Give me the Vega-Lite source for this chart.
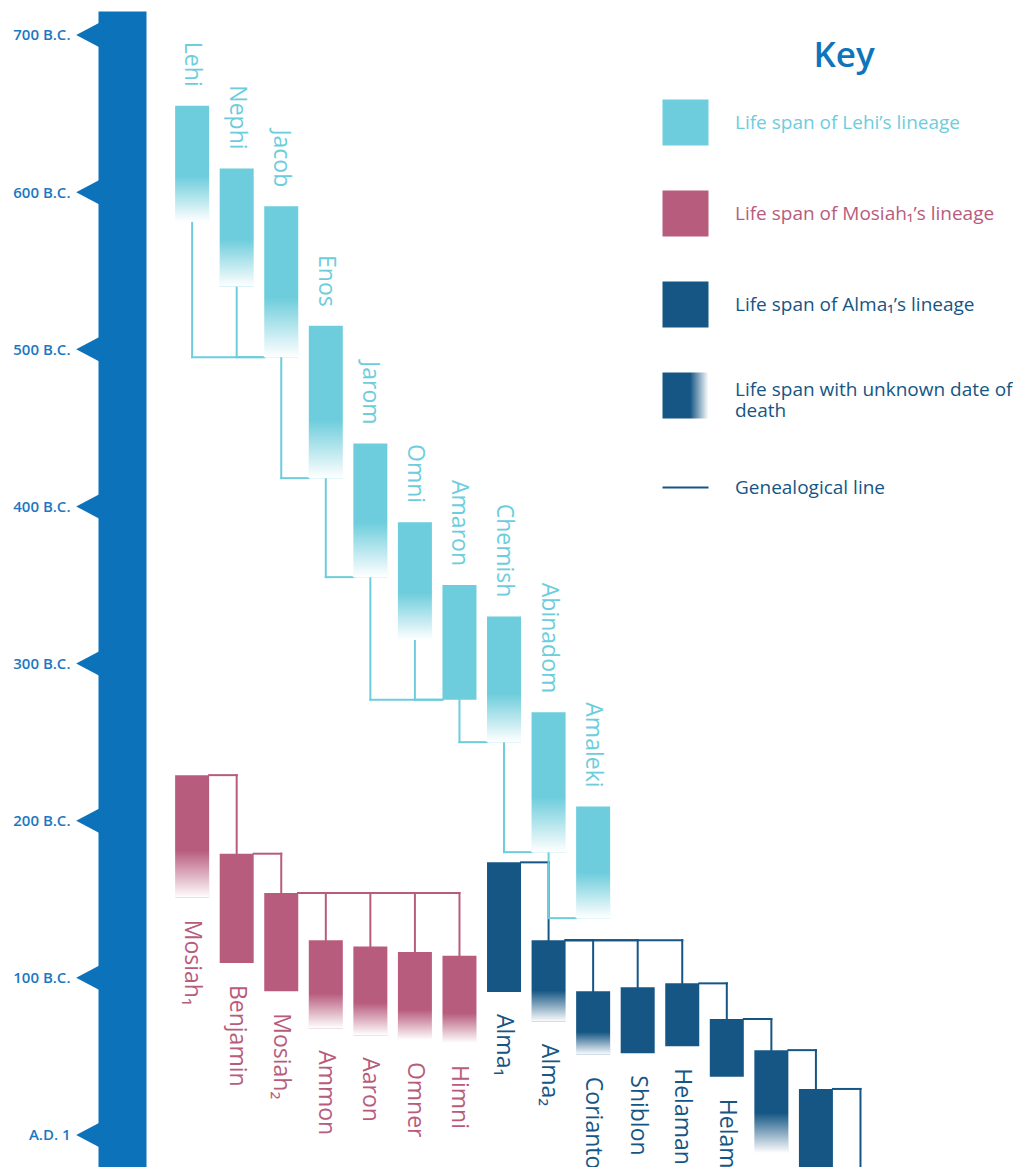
{
  "$schema": "https://vega.github.io/schema/vega-lite/v6.json",
  "width": 1013,
  "height": 1156,
  "autosize": {"type": "none"},
  "padding": {"left": 0, "right": 0, "top": 11, "bottom": 0},
  "background": "white",
  "config": {"view": {"stroke": null}, "font": "Open Sans"},
  "resolve": {"axis": {"y": "independent"}},
  "datasets": {
    "people": [
      {"name": "Lehi", "lineage": "Lehi", "col": 0, "start": 655, "fade": 610, "end": 581},
      {"name": "Nephi", "lineage": "Lehi", "col": 1, "start": 615, "fade": 570, "end": 540},
      {"name": "Jacob", "lineage": "Lehi", "col": 2, "start": 591, "fade": 533, "end": 495},
      {"name": "Enos", "lineage": "Lehi", "col": 3, "start": 515, "fade": 455, "end": 418},
      {"name": "Jarom", "lineage": "Lehi", "col": 4, "start": 440, "fade": 390, "end": 355},
      {"name": "Omni", "lineage": "Lehi", "col": 5, "start": 390, "fade": 345, "end": 315},
      {"name": "Amaron", "lineage": "Lehi", "col": 6, "start": 350, "end": 277},
      {"name": "Chemish", "lineage": "Lehi", "col": 7, "start": 330, "fade": 281, "end": 250},
      {"name": "Abinadom", "lineage": "Lehi", "col": 8, "start": 269, "fade": 215, "end": 180},
      {"name": "Amaleki", "lineage": "Lehi", "col": 9, "start": 209, "fade": 167, "end": 138},
      {"name": "Mosiah₁", "lineage": "Mosiah", "col": 0, "start": 229, "fade": 181, "end": 151},
      {"name": "Benjamin", "lineage": "Mosiah", "col": 1, "start": 179, "end": 109.5},
      {"name": "Mosiah₂", "lineage": "Mosiah", "col": 2, "start": 154, "end": 91.5},
      {"name": "Ammon", "lineage": "Mosiah", "col": 3, "start": 124, "fade": 90, "end": 68},
      {"name": "Aaron", "lineage": "Mosiah", "col": 4, "start": 120, "fade": 84, "end": 63.5},
      {"name": "Omner", "lineage": "Mosiah", "col": 5, "start": 116.5, "fade": 79.5, "end": 60.5},
      {"name": "Himni", "lineage": "Mosiah", "col": 6, "start": 114, "fade": 77.5, "end": 58.5},
      {"name": "Alma₁", "lineage": "Alma", "col": 7, "start": 173.5, "end": 91},
      {"name": "Alma₂", "lineage": "Alma", "col": 8, "start": 124, "fade": 92, "end": 72},
      {"name": "Corianton", "lineage": "Alma", "col": 9, "start": 91.5, "fade": 65.5, "end": 51},
      {"name": "Shiblon", "lineage": "Alma", "col": 10, "start": 94, "end": 52},
      {"name": "Helaman", "lineage": "Alma", "col": 11, "start": 96.5, "end": 56.5},
      {"name": "Helaman₂", "lineage": "Alma", "col": 12, "start": 73.8, "end": 37},
      {"name": "Nephi₂", "lineage": "Alma", "col": 13, "start": 54, "fade": 14, "end": -11.5},
      {"name": "Nephi₃", "lineage": "Alma", "col": 14, "start": 29.3, "end": -30},
      {"name": "Nephi₄", "lineage": "Alma", "col": 15, "start": -35, "end": -70}
    ],
    "links": [
      {"from": "Lehi", "to": "Jacob", "style": "bottom"},
      {"from": "Nephi", "to": "Jacob", "style": "bottom"},
      {"from": "Jacob", "to": "Enos", "style": "bottom"},
      {"from": "Enos", "to": "Jarom", "style": "bottom"},
      {"from": "Jarom", "to": "Amaron", "style": "bottom"},
      {"from": "Omni", "to": "Amaron", "style": "bottom"},
      {"from": "Amaron", "to": "Chemish", "style": "bottom"},
      {"from": "Chemish", "to": "Abinadom", "style": "bottom"},
      {"from": "Abinadom", "to": "Amaleki", "style": "bottom"},
      {"from": "Mosiah₁", "to": "Benjamin", "style": "top"},
      {"from": "Benjamin", "to": "Mosiah₂", "style": "top"},
      {"from": "Mosiah₂", "to": "Ammon", "style": "top"},
      {"from": "Mosiah₂", "to": "Aaron", "style": "top"},
      {"from": "Mosiah₂", "to": "Omner", "style": "top"},
      {"from": "Mosiah₂", "to": "Himni", "style": "top"},
      {"from": "Alma₁", "to": "Alma₂", "style": "top"},
      {"from": "Alma₂", "to": "Corianton", "style": "top"},
      {"from": "Alma₂", "to": "Shiblon", "style": "top"},
      {"from": "Alma₂", "to": "Helaman", "style": "top"},
      {"from": "Helaman", "to": "Helaman₂", "style": "top"},
      {"from": "Helaman₂", "to": "Nephi₂", "style": "top"},
      {"from": "Nephi₂", "to": "Nephi₃", "style": "top"},
      {"from": "Nephi₃", "to": "Nephi₄", "style": "top"}
    ],
    "centuries": [
      {"year": 700}, {"year": 600}, {"year": 500}, {"year": 400},
      {"year": 300}, {"year": 200}, {"year": 100}, {"year": 0}
    ]
  },
  "layer": [
    {
      "data": {"name": "links"},
      "transform": [
        {"lookup": "from", "from": {"data": {"name": "people"}, "key": "name", "fields": ["col", "start", "end", "lineage"]}, "as": ["pCol", "pStart", "pEnd", "lineage"]},
        {"lookup": "to", "from": {"data": {"name": "people"}, "key": "name", "fields": ["col", "start", "end"]}, "as": ["cCol", "cStart", "cEnd"]},
        {"filter": "datum.style === 'top'"}
      ],
      "mark": {"type": "rule", "strokeCap": "square", "xOffset": 17},
      "encoding": {
        "x": {"field": "pCol", "type": "quantitative", "scale": {"domain": [-4.2, 18.3111], "nice": false, "zero": false}, "axis": null},
        "x2": {"field": "cCol"},
        "y": {"field": "pStart", "type": "quantitative", "scale": {"domain": [-20.37, 715.27], "nice": false, "zero": false}, "axis": null},
        "strokeWidth": {"value": 2},
        "stroke": {
          "field": "lineage", "type": "nominal",
          "scale": {"domain": ["Lehi", "Mosiah", "Alma", "unknown", "line"], "range": ["#6DCDDC", "#B85C7D", "#155684", "#155684", "#155684"]},
          "legend": {
            "title": "Key", "orient": "none", "direction": "vertical",
            "legendX": 676, "legendY": 28, "padding": 0,
            "titleFont": "Open Sans", "titleFontSize": 35, "titleFontWeight": 600, "titleColor": "#0E74BC",
            "titleAnchor": "middle", "titlePadding": 39,
            "symbolType": {"expr": "datum.value === 'line' ? 'M-1,-0.8M-1,0L1,0M1,0.8' : 'square'"},
            "symbolSize": 2116,
            "symbolFillColor": {"expr": "datum.value === 'Lehi' ? '#6DCDDC' : datum.value === 'Mosiah' ? '#B85C7D' : datum.value === 'Alma' ? '#155684' : datum.value === 'unknown' ? {gradient: 'linear', x1: 0, y1: 0, x2: 1, y2: 0, stops: [{offset: 0, color: '#155684'}, {offset: 0.6, color: '#155684'}, {offset: 1, color: '#ffffff'}]} : 'transparent'"},
            "symbolStrokeWidth": {"expr": "datum.value === 'line' ? 2 : 0"},
            "symbolOpacity": 1,
            "labelFont": "Open Sans", "labelFontSize": 19, "labelOffset": 40, "labelLimit": 400,
            "labelBaseline": {"expr": "datum.value === 'unknown' ? 'alphabetic' : 'middle'"},
            "labelColor": {"expr": "datum.value === 'Lehi' ? '#6DCDDC' : datum.value === 'Mosiah' ? '#B85C7D' : '#155684'"},
            "rowPadding": 44,
            "labelExpr": "datum.value === 'Lehi' ? 'Life span of Lehi’s lineage' : datum.value === 'Mosiah' ? 'Life span of Mosiah₁’s lineage' : datum.value === 'Alma' ? 'Life span of Alma₁’s lineage' : datum.value === 'unknown' ? ['Life span with unknown date of', 'death'] : 'Genealogical line'"
          }
        }
      }
    },
    {
      "data": {"name": "links"},
      "transform": [
        {"lookup": "from", "from": {"data": {"name": "people"}, "key": "name", "fields": ["col", "start", "end", "lineage"]}, "as": ["pCol", "pStart", "pEnd", "lineage"]},
        {"lookup": "to", "from": {"data": {"name": "people"}, "key": "name", "fields": ["col", "start", "end"]}, "as": ["cCol", "cStart", "cEnd"]},
        {"filter": "datum.style === 'top'"}
      ],
      "mark": {"type": "rule", "strokeCap": "square"},
      "encoding": {
        "x": {"field": "cCol", "type": "quantitative", "scale": {"domain": [-4.2, 18.3111], "nice": false, "zero": false}, "axis": null},
        "y": {"field": "pStart", "type": "quantitative", "scale": {"domain": [-20.37, 715.27], "nice": false, "zero": false}, "axis": null},
        "y2": {"field": "cStart"},
        "strokeWidth": {"value": 2},
        "stroke": {"field": "lineage", "type": "nominal", "scale": {"domain": ["Lehi", "Mosiah", "Alma", "unknown", "line"], "range": ["#6DCDDC", "#B85C7D", "#155684", "#155684", "#155684"]}, "legend": null}
      }
    },
    {
      "data": {"name": "links"},
      "transform": [
        {"lookup": "from", "from": {"data": {"name": "people"}, "key": "name", "fields": ["col", "start", "end", "lineage"]}, "as": ["pCol", "pStart", "pEnd", "lineage"]},
        {"lookup": "to", "from": {"data": {"name": "people"}, "key": "name", "fields": ["col", "start", "end"]}, "as": ["cCol", "cStart", "cEnd"]},
        {"filter": "datum.style === 'bottom'"}
      ],
      "mark": {"type": "rule", "strokeCap": "square"},
      "encoding": {
        "x": {"field": "pCol", "type": "quantitative", "scale": {"domain": [-4.2, 18.3111], "nice": false, "zero": false}, "axis": null},
        "y": {"field": "pEnd", "type": "quantitative", "scale": {"domain": [-20.37, 715.27], "nice": false, "zero": false}, "axis": null},
        "y2": {"field": "cEnd"},
        "strokeWidth": {"value": 2},
        "stroke": {"field": "lineage", "type": "nominal", "scale": {"domain": ["Lehi", "Mosiah", "Alma", "unknown", "line"], "range": ["#6DCDDC", "#B85C7D", "#155684", "#155684", "#155684"]}, "legend": null}
      }
    },
    {
      "data": {"name": "links"},
      "transform": [
        {"lookup": "from", "from": {"data": {"name": "people"}, "key": "name", "fields": ["col", "start", "end", "lineage"]}, "as": ["pCol", "pStart", "pEnd", "lineage"]},
        {"lookup": "to", "from": {"data": {"name": "people"}, "key": "name", "fields": ["col", "start", "end"]}, "as": ["cCol", "cStart", "cEnd"]},
        {"filter": "datum.style === 'bottom'"}
      ],
      "mark": {"type": "rule", "strokeCap": "square", "x2Offset": -17},
      "encoding": {
        "x": {"field": "pCol", "type": "quantitative", "scale": {"domain": [-4.2, 18.3111], "nice": false, "zero": false}, "axis": null},
        "x2": {"field": "cCol"},
        "y": {"field": "cEnd", "type": "quantitative", "scale": {"domain": [-20.37, 715.27], "nice": false, "zero": false}, "axis": null},
        "strokeWidth": {"value": 2},
        "stroke": {"field": "lineage", "type": "nominal", "scale": {"domain": ["Lehi", "Mosiah", "Alma", "unknown", "line"], "range": ["#6DCDDC", "#B85C7D", "#155684", "#155684", "#155684"]}, "legend": null}
      }
    },
    {
      "data": {"name": "people"},
      "mark": {"type": "bar", "size": 34},
      "encoding": {
        "x": {"field": "col", "type": "quantitative", "scale": {"domain": [-4.2, 18.3111], "nice": false, "zero": false}, "axis": null},
        "y": {
          "field": "start", "type": "quantitative",
          "scale": {"domain": [-20.37, 715.27], "nice": false, "zero": false},
          "axis": {
            "title": null, "orient": "left", "offset": -122,
            "values": [0, 100, 200, 300, 400, 500, 600, 700],
            "labelExpr": "datum.value === 0 ? 'A.D. 1' : datum.value + ' B.C.'",
            "grid": false, "ticks": false, "tickSize": 0,
            "domain": true, "domainWidth": 48, "domainColor": "#0C72BA", "domainCap": "butt",
            "labelPadding": 52, "labelFont": "Open Sans", "labelFontWeight": 600,
            "labelFontSize": 15, "labelColor": "#1A78C2", "labelFlush": false, "labelOverlap": false
          }
        },
        "y2": {"field": "end"},
        "fill": {"field": "lineage", "type": "nominal", "scale": {"domain": ["Lehi", "Mosiah", "Alma"], "range": ["#6DCDDC", "#B85C7D", "#155684"]}, "legend": null}
      }
    },
    {
      "data": {"name": "people"},
      "transform": [{"filter": "datum.fade != null"}],
      "mark": {
        "type": "bar", "size": 35,
        "color": {"gradient": "linear", "x1": 0, "y1": 0, "x2": 0, "y2": 1, "stops": [{"offset": 0, "color": "rgba(255,255,255,0)"}, {"offset": 1, "color": "rgba(255,255,255,1)"}]}
      },
      "encoding": {
        "x": {"field": "col", "type": "quantitative", "scale": {"domain": [-4.2, 18.3111], "nice": false, "zero": false}, "axis": null},
        "y": {"field": "fade", "type": "quantitative", "scale": {"domain": [-20.37, 715.27], "nice": false, "zero": false}, "axis": null},
        "y2": {"field": "end"}
      }
    },
    {
      "data": {"name": "people"},
      "transform": [{"filter": "datum.lineage === 'Lehi'"}],
      "mark": {"type": "text", "angle": 90, "align": "right", "baseline": "middle", "dx": -19, "fontSize": 23, "font": "Open Sans"},
      "encoding": {
        "x": {"field": "col", "type": "quantitative", "scale": {"domain": [-4.2, 18.3111], "nice": false, "zero": false}, "axis": null},
        "y": {"field": "start", "type": "quantitative", "scale": {"domain": [-20.37, 715.27], "nice": false, "zero": false}, "axis": null},
        "text": {"field": "name"},
        "fill": {"field": "lineage", "type": "nominal", "scale": {"domain": ["Lehi", "Mosiah", "Alma"], "range": ["#6DCDDC", "#B85C7D", "#155684"]}, "legend": null}
      }
    },
    {
      "data": {"name": "people"},
      "transform": [{"filter": "datum.lineage !== 'Lehi'"}],
      "mark": {"type": "text", "angle": 90, "align": "left", "baseline": "middle", "dx": 22, "fontSize": 23, "font": "Open Sans"},
      "encoding": {
        "x": {"field": "col", "type": "quantitative", "scale": {"domain": [-4.2, 18.3111], "nice": false, "zero": false}, "axis": null},
        "y": {"field": "end", "type": "quantitative", "scale": {"domain": [-20.37, 715.27], "nice": false, "zero": false}, "axis": null},
        "text": {"field": "name"},
        "fill": {"field": "lineage", "type": "nominal", "scale": {"domain": ["Lehi", "Mosiah", "Alma"], "range": ["#6DCDDC", "#B85C7D", "#155684"]}, "legend": null}
      }
    },
    {
      "data": {"name": "centuries"},
      "mark": {"type": "point", "shape": "M1.1,-1L-0.793,0L1.1,1Z", "size": 841, "filled": true, "color": "#0C72BA", "opacity": 1, "strokeWidth": 0},
      "encoding": {
        "x": {"datum": -2.3444, "type": "quantitative", "scale": {"domain": [-4.2, 18.3111], "nice": false, "zero": false}, "axis": null},
        "y": {"field": "year", "type": "quantitative", "scale": {"domain": [-20.37, 715.27], "nice": false, "zero": false}, "axis": null}
      }
    }
  ]
}
